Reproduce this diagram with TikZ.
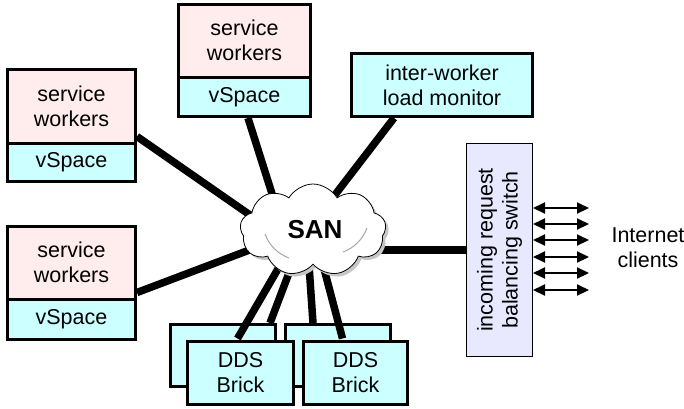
\documentclass[tikz,border=0pt]{standalone}
\usepackage{fontspec}
\setmainfont{Liberation Sans}
\usetikzlibrary{shapes.symbols,arrows.meta,calc,shadows}
\definecolor{pinkf}{HTML}{FFECEC}
\definecolor{cyanf}{HTML}{CCFFFF}
\definecolor{lavf}{HTML}{E8E8FF}
\begin{document}
\begin{tikzpicture}[x=1pt,y=-1pt,
  font=\fontsize{21.5}{25}\selectfont,
  box/.style={draw, line width=3pt, inner sep=0pt, align=center},
  pinkbox/.style={box, fill=pinkf},
  cyanbox/.style={box, fill=cyanf},
  brick/.style={box, fill=cyanf, minimum width=105pt, minimum height=62pt},
  thick link/.style={line width=7.5pt},
  dbl/.style={line width=2pt, {Triangle[length=12pt,width=11pt]}-{Triangle[length=12pt,width=11pt]}},
  sancloud/.style={cloud, cloud puffs=9, cloud puff arc=120, aspect=1.6, draw, line width=0.8pt, fill=white,
     inner sep=0pt,
     drop shadow={shadow xshift=3pt, shadow yshift=-3pt, fill=black!22, opacity=1}}
]
\useasboundingbox (0,0) rectangle (684,408);

% boxes
\node[pinkbox, minimum width=128pt, minimum height=73.5pt] (sw1p) at (71.5,106.25) {service\\workers};
\node[cyanbox, minimum width=128pt, minimum height=38.5pt] (sw1c) at (71.5,162.25) {vSpace};
\node[pinkbox, minimum width=132pt, minimum height=72.5pt] (sw2p) at (244.5,40.75) {service\\workers};
\node[cyanbox, minimum width=132pt, minimum height=39.5pt] (sw2c) at (244.5,96.75) {vSpace};
\node[pinkbox, minimum width=128pt, minimum height=72.5pt] (sw3p) at (71.5,262.75) {service\\workers};
\node[cyanbox, minimum width=128pt, minimum height=40.5pt] (sw3c) at (71.5,319.25) {vSpace};
\node[cyanbox, minimum width=181pt, minimum height=63pt] (mon) at (442,85) {inter-worker\\load monitor};
\node[draw, line width=1pt, fill=lavf, minimum width=66pt, minimum height=213pt, inner sep=0pt] (sw) at (499.5,250) {};
\node[rotate=90, align=center] (swt) at (sw.center) {incoming request\\balancing switch};

% back bricks
\node[brick] (bl) at (223,355.5) {};
\node[brick] (br) at (338,355.5) {};

% cloud centre
\coordinate (sanc) at (313,230);

% links
\draw[thick link] (sw1c.north east) ++(0,-5) -- ($(sanc)+(-63,-15)$);
\draw[thick link] ($(sw2c.south)+(3.5,0)$) -- ($(sanc)+(-39,-30)$);
\draw[thick link] ($(mon.south west)+(44,0)$) -- ($(sanc)+(18,-30)$);
\draw[thick link] ($(sw3c.north east)+(0,-5)$) -- ($(sanc)+(-53,16)$);
\draw[thick link] (sw.west) -- (sw.west -| sanc);
\draw[thick link] ($(bl.north)+(47,0)$) -- ($(sanc)+(-21,35)$);
\draw[thick link] ($(br.north)+(-25,0)$) -- ($(sanc)+(-4,35)$);

% front bricks
\node[brick, minimum width=106pt, minimum height=63pt] (fl) at (240.5,373) {DDS\\Brick};
\node[brick, minimum width=104pt, minimum height=63pt] (fr) at (355.5,373) {DDS\\Brick};
\draw[thick link] ($(fl.north)+(-3,-1.5)$) -- ($(sanc)+(-31,32)$);
\draw[thick link] ($(fr.north)+(-13,-1.5)$) -- ($(sanc)+(10,35)$);

% cloud
\node[sancloud, minimum width=146pt, minimum height=92pt] (san) at (sanc) {};
\draw[black!35, line width=1pt] ($(san.center)+(-48,4)$) arc[start angle=200, end angle=250, radius=40pt];
\draw[black!35, line width=1pt] ($(san.center)+(30,22)$) arc[start angle=290, end angle=340, radius=40pt];
\node[font=\fontsize{26}{30}\selectfont\bfseries] (sant) at (315,230) {SAN};

% arrows
\foreach \i/\yy in {1/208,2/224,3/240,4/257,5/273,6/290}{
  \coordinate (a\i) at (589,\yy);
  \draw[dbl] (sw.east |- a\i) -- (a\i);
}
\node[align=center] (inet) at (648,248) {Internet\\clients};
\end{tikzpicture}
\end{document}
